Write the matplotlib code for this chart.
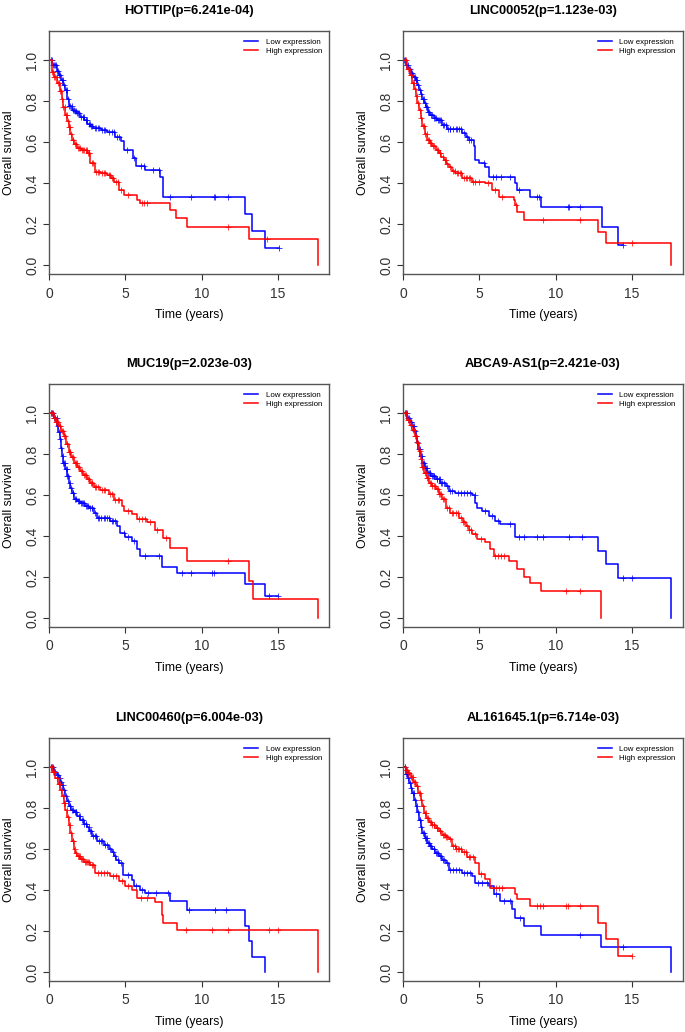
import numpy as np
import matplotlib
matplotlib.use("Agg")
import matplotlib.pyplot as plt

plt.rcParams['font.family'] = ['Liberation Sans', 'DejaVu Sans']

# --- titres ---
titles = ["HOTTIP(p=6.241e-04)", "LINC00052(p=1.123e-03)", "MUC19(p=2.023e-03)",
          "ABCA9-AS1(p=2.421e-03)", "LINC00460(p=6.004e-03)", "AL161645.1(p=6.714e-03)"]
legend_labels = ["Low expression", "High expression"]
x_ticks = [0, 5, 10, 15]
y_ticks = [0.0, 0.2, 0.4, 0.6, 0.8, 1.0]

# --- HOTTIP ---
hottip_low_t = [0.2, 0.5, 0.65, 0.8, 0.95, 1.07, 1.2, 1.29, 1.5, 1.65, 1.8, 2.05, 2.3, 2.5, 2.7, 2.9, 3.4, 3.8, 4.35, 4.7, 4.9, 5.5, 5.7, 6.3, 7.3, 7.5, 12.86, 13.3, 14.13]
hottip_low_s = [0.98, 0.95, 0.93, 0.905, 0.88, 0.857, 0.81, 0.775, 0.76, 0.752, 0.745, 0.726, 0.71, 0.69, 0.68, 0.67, 0.66, 0.65, 0.628, 0.604, 0.563, 0.522, 0.486, 0.465, 0.432, 0.334, 0.25, 0.167, 0.083]
hottip_low_end = 15.1
hottip_low_cens = [0.1, 0.18, 0.25, 0.3, 0.38, 0.45, 0.52, 0.6, 0.68, 0.75, 0.82, 0.9, 1.0, 1.1, 1.15, 1.25, 1.33, 1.4, 1.48, 1.55, 1.62, 1.7, 1.78, 1.85, 1.92, 1.98, 2.1, 2.2, 2.28, 2.4, 2.48, 2.6, 2.68, 2.75, 2.85, 3.0, 3.1, 3.2, 3.3, 3.5, 3.6, 3.7, 3.95, 4.1, 4.25, 4.45, 4.6, 5.1, 5.6, 6.0, 6.2, 6.8, 7.2, 7.9, 9.3, 10.8, 10.9, 11.7, 15.1]
hottip_high_t = [0.2, 0.35, 0.52, 0.7, 0.85, 0.95, 1.07, 1.18, 1.29, 1.4, 1.5, 1.65, 1.83, 2.1, 2.5, 2.7, 3.03, 3.4, 3.8, 4.05, 4.24, 4.56, 4.9, 5.76, 5.98, 7.9, 8.3, 9.04, 13.08, 17.66]
hottip_high_s = [0.945, 0.92, 0.89, 0.85, 0.81, 0.77, 0.734, 0.705, 0.677, 0.64, 0.61, 0.59, 0.571, 0.56, 0.546, 0.5, 0.457, 0.448, 0.44, 0.425, 0.408, 0.367, 0.343, 0.318, 0.302, 0.268, 0.232, 0.188, 0.126, 0.0]
hottip_high_end = 17.66
hottip_high_cens = [0.12, 0.2, 0.28, 0.35, 0.42, 0.5, 0.58, 0.65, 0.72, 0.8, 0.88, 0.95, 1.02, 1.1, 1.15, 1.22, 1.3, 1.36, 1.45, 1.55, 1.6, 1.7, 1.78, 1.88, 1.95, 2.05, 2.15, 2.25, 2.3, 2.4, 2.48, 2.55, 2.6, 2.65, 2.8, 2.9, 3.1, 3.2, 3.3, 3.45, 3.6, 3.7, 3.9, 4.0, 4.1, 4.2, 4.4, 4.5, 4.7, 5.2, 6.1, 6.2, 6.4, 11.7, 14.3]

# --- LINC00052 ---
linc52_low_t = [0.17, 0.35, 0.5, 0.68, 0.83, 0.95, 1.05, 1.15, 1.26, 1.38, 1.48, 1.65, 1.8, 2.0, 2.24, 2.57, 2.9, 3.88, 4.1, 4.3, 4.64, 4.75, 4.97, 5.4, 5.62, 7.36, 7.47, 8.34, 9.06, 13.03, 14.07]
linc52_low_s = [0.98, 0.96, 0.94, 0.92, 0.905, 0.88, 0.856, 0.835, 0.81, 0.79, 0.77, 0.75, 0.734, 0.72, 0.71, 0.685, 0.665, 0.644, 0.628, 0.612, 0.58, 0.514, 0.498, 0.48, 0.432, 0.40, 0.367, 0.334, 0.286, 0.188, 0.096]
linc52_low_end = 14.45
linc52_low_cens = [0.08, 0.15, 0.22, 0.3, 0.38, 0.45, 0.55, 0.6, 0.7, 0.78, 0.88, 0.92, 1.0, 1.1, 1.2, 1.3, 1.35, 1.42, 1.5, 1.58, 1.65, 1.72, 1.85, 1.9, 2.0, 2.1, 2.18, 2.3, 2.35, 2.45, 2.5, 2.62, 2.7, 2.8, 2.95, 3.05, 3.1, 3.3, 3.5, 3.55, 3.7, 3.8, 4.0, 4.2, 4.35, 4.45, 5.3, 5.9, 6.1, 6.4, 7.0, 7.6, 8.8, 8.9, 10.8, 10.9, 11.6, 14.45]
linc52_high_t = [0.28, 0.45, 0.6, 0.72, 0.83, 0.95, 1.05, 1.15, 1.26, 1.42, 1.6, 1.75, 1.92, 2.15, 2.35, 2.5, 2.68, 2.85, 3.0, 3.2, 3.44, 3.88, 4.53, 5.4, 5.84, 6.27, 7.25, 7.36, 7.47, 7.9, 12.8, 13.3, 17.56]
linc52_high_s = [0.96, 0.93, 0.89, 0.86, 0.824, 0.79, 0.76, 0.72, 0.68, 0.64, 0.61, 0.595, 0.58, 0.56, 0.546, 0.53, 0.514, 0.495, 0.48, 0.46, 0.449, 0.424, 0.408, 0.40, 0.367, 0.334, 0.318, 0.294, 0.261, 0.22, 0.163, 0.108, 0.0]
linc52_high_end = 17.56
linc52_high_cens = [0.1, 0.2, 0.3, 0.4, 0.5, 0.55, 0.65, 0.7, 0.78, 0.9, 1.0, 1.1, 1.18, 1.3, 1.38, 1.45, 1.55, 1.65, 1.7, 1.8, 1.85, 1.98, 2.05, 2.2, 2.3, 2.4, 2.45, 2.6, 2.75, 2.8, 2.9, 3.1, 3.3, 3.4, 3.55, 3.6, 3.75, 3.8, 4.0, 4.1, 4.2, 4.3, 4.4, 4.6, 4.7, 5.0, 5.6, 6.0, 6.5, 7.4, 9.2, 11.6, 15.0]

# --- MUC19 ---
muc19_low_t = [0.3, 0.52, 0.62, 0.7, 0.78, 0.85, 0.95, 1.07, 1.18, 1.29, 1.4, 1.5, 1.66, 1.85, 2.05, 2.35, 2.6, 2.93, 3.14, 4.0, 4.45, 4.67, 5.0, 5.44, 5.76, 5.98, 7.4, 8.38, 12.86, 14.13]
muc19_low_s = [0.98, 0.94, 0.91, 0.873, 0.83, 0.79, 0.76, 0.727, 0.695, 0.662, 0.635, 0.613, 0.58, 0.572, 0.564, 0.55, 0.54, 0.515, 0.49, 0.475, 0.45, 0.418, 0.394, 0.377, 0.337, 0.304, 0.247, 0.222, 0.167, 0.11]
muc19_low_end = 15.04
muc19_low_cens = [0.1, 0.2, 0.28, 0.35, 0.42, 0.5, 0.58, 0.65, 0.75, 0.8, 0.9, 0.95, 1.0, 1.05, 1.1, 1.15, 1.2, 1.25, 1.35, 1.45, 1.55, 1.6, 1.7, 1.8, 1.9, 1.95, 2.1, 2.15, 2.25, 2.3, 2.4, 2.5, 2.55, 2.7, 2.8, 2.85, 3.0, 3.2, 3.3, 3.4, 3.6, 3.7, 3.8, 3.9, 4.1, 4.2, 4.3, 4.9, 5.2, 5.6, 6.3, 7.2, 8.7, 9.3, 10.7, 10.8, 14.4, 15.04]
muc19_high_t = [0.3, 0.45, 0.63, 0.8, 0.96, 1.1, 1.29, 1.45, 1.62, 1.85, 2.05, 2.25, 2.5, 2.7, 2.93, 3.36, 3.9, 4.24, 4.78, 4.9, 5.44, 5.76, 6.4, 6.97, 7.5, 7.95, 9.04, 13.08, 13.34, 17.66]
muc19_high_s = [0.98, 0.96, 0.94, 0.915, 0.89, 0.85, 0.81, 0.785, 0.76, 0.74, 0.72, 0.7, 0.68, 0.66, 0.64, 0.624, 0.607, 0.575, 0.55, 0.525, 0.51, 0.485, 0.468, 0.43, 0.39, 0.34, 0.278, 0.18, 0.093, 0.0]
muc19_high_end = 17.66
muc19_high_cens = [0.12, 0.2, 0.3, 0.38, 0.45, 0.5, 0.58, 0.7, 0.75, 0.85, 0.92, 1.0, 1.05, 1.15, 1.2, 1.3, 1.38, 1.4, 1.5, 1.58, 1.7, 1.75, 1.82, 1.9, 1.95, 2.1, 2.15, 2.3, 2.35, 2.4, 2.55, 2.6, 2.75, 2.8, 2.85, 3.0, 3.1, 3.2, 3.5, 3.6, 3.7, 4.0, 4.1, 4.3, 4.5, 4.6, 5.2, 5.9, 6.1, 6.3, 6.6, 7.1, 7.7, 11.7]

# --- ABCA9-AS1 ---
abca9_low_t = [0.28, 0.45, 0.6, 0.72, 0.83, 0.92, 1.0, 1.12, 1.26, 1.42, 1.6, 1.85, 2.13, 2.45, 2.8, 3.0, 3.44, 4.53, 4.75, 4.86, 5.2, 5.62, 6.05, 6.38, 7.36, 12.77, 13.3, 14.07, 17.56]
abca9_low_s = [0.98, 0.96, 0.94, 0.915, 0.89, 0.86, 0.824, 0.79, 0.76, 0.735, 0.71, 0.695, 0.678, 0.66, 0.645, 0.62, 0.61, 0.60, 0.564, 0.54, 0.524, 0.5, 0.475, 0.46, 0.397, 0.33, 0.265, 0.198, 0.0]
abca9_low_end = 17.56
abca9_low_cens = [0.1, 0.18, 0.25, 0.32, 0.4, 0.5, 0.55, 0.65, 0.7, 0.78, 0.88, 0.95, 1.05, 1.1, 1.18, 1.22, 1.3, 1.35, 1.45, 1.5, 1.55, 1.65, 1.7, 1.75, 1.8, 1.9, 1.95, 2.0, 2.05, 2.2, 2.25, 2.35, 2.4, 2.5, 2.55, 2.7, 2.9, 3.1, 3.2, 3.6, 3.8, 4.0, 4.2, 4.4, 4.7, 5.4, 5.8, 6.2, 7.0, 7.6, 7.9, 8.8, 9.2, 10.9, 11.7, 14.4, 15.0]
abca9_high_t = [0.28, 0.45, 0.6, 0.78, 0.94, 1.05, 1.15, 1.25, 1.37, 1.55, 1.7, 1.9, 2.13, 2.35, 2.57, 2.79, 3.1, 3.66, 3.9, 4.1, 4.3, 4.53, 4.86, 5.4, 5.73, 5.95, 6.93, 7.47, 7.9, 8.34, 9.06, 12.98]
abca9_high_s = [0.97, 0.945, 0.92, 0.89, 0.855, 0.815, 0.775, 0.74, 0.71, 0.685, 0.66, 0.645, 0.63, 0.605, 0.58, 0.54, 0.515, 0.49, 0.47, 0.45, 0.43, 0.41, 0.385, 0.37, 0.337, 0.304, 0.278, 0.24, 0.2, 0.17, 0.13, 0.0]
abca9_high_end = 12.98
abca9_high_cens = [0.12, 0.2, 0.3, 0.4, 0.5, 0.55, 0.65, 0.7, 0.8, 0.88, 1.0, 1.1, 1.2, 1.25, 1.32, 1.45, 1.5, 1.6, 1.65, 1.8, 1.85, 1.9, 2.0, 2.1, 2.2, 2.3, 2.35, 2.45, 2.5, 2.65, 2.7, 2.9, 3.0, 3.2, 3.3, 3.5, 3.6, 3.8, 3.9, 4.0, 4.2, 4.3, 4.45, 4.7, 5.1, 6.0, 6.2, 6.4, 6.6, 10.7, 11.6]

# --- LINC00460 ---
linc460_low_t = [0.3, 0.5, 0.63, 0.75, 0.85, 0.95, 1.07, 1.18, 1.29, 1.45, 1.62, 1.85, 2.05, 2.3, 2.5, 2.65, 2.82, 3.14, 3.58, 3.9, 4.1, 4.24, 4.4, 4.56, 4.85, 5.44, 5.55, 5.98, 6.3, 7.95, 9.04, 12.86, 13.08, 13.3, 14.13]
linc460_low_s = [0.98, 0.965, 0.948, 0.93, 0.915, 0.89, 0.86, 0.835, 0.81, 0.79, 0.78, 0.765, 0.745, 0.725, 0.71, 0.69, 0.665, 0.64, 0.623, 0.6, 0.585, 0.566, 0.55, 0.533, 0.475, 0.452, 0.42, 0.403, 0.387, 0.345, 0.302, 0.226, 0.15, 0.075, 0.0]
linc460_low_end = 14.13
linc460_low_cens = [0.1, 0.2, 0.28, 0.35, 0.42, 0.55, 0.6, 0.7, 0.8, 0.9, 1.0, 1.12, 1.22, 1.35, 1.4, 1.5, 1.55, 1.7, 1.75, 1.8, 1.95, 2.0, 2.15, 2.2, 2.3, 2.4, 2.45, 2.6, 2.7, 2.78, 2.9, 3.0, 3.1, 3.3, 3.4, 3.5, 3.7, 3.8, 4.0, 4.2, 4.35, 4.5, 4.7, 5.2, 5.7, 6.1, 6.5, 7.0, 7.8, 9.2, 10.9, 11.6]
linc460_high_t = [0.2, 0.41, 0.6, 0.74, 0.85, 0.96, 1.08, 1.18, 1.3, 1.4, 1.5, 1.62, 1.72, 1.83, 2.05, 2.27, 2.7, 3.03, 4.0, 4.56, 5.0, 5.44, 5.76, 6.97, 7.4, 7.5, 8.38, 17.66]
linc460_high_s = [0.98, 0.948, 0.92, 0.89, 0.86, 0.826, 0.79, 0.76, 0.72, 0.68, 0.64, 0.6, 0.58, 0.566, 0.552, 0.54, 0.525, 0.485, 0.468, 0.444, 0.42, 0.403, 0.363, 0.34, 0.277, 0.24, 0.205, 0.0]
linc460_high_end = 17.66
linc460_high_cens = [0.1, 0.18, 0.25, 0.32, 0.38, 0.5, 0.55, 0.65, 0.7, 0.8, 0.9, 1.0, 1.05, 1.15, 1.25, 1.35, 1.45, 1.55, 1.6, 1.7, 1.8, 1.9, 1.95, 2.0, 2.1, 2.15, 2.25, 2.35, 2.4, 2.5, 2.55, 2.6, 2.8, 2.9, 3.2, 3.4, 3.6, 3.8, 4.2, 4.4, 4.8, 5.2, 6.0, 6.4, 9.0, 10.7, 11.7, 14.4, 15.0]

# --- AL161645.1 ---
al1616_low_t = [0.17, 0.3, 0.4, 0.5, 0.6, 0.72, 0.83, 0.95, 1.05, 1.15, 1.26, 1.42, 1.6, 1.75, 1.92, 2.1, 2.35, 2.55, 2.8, 3.0, 3.88, 4.53, 4.75, 5.62, 5.95, 6.38, 7.14, 7.36, 7.9, 9.06, 12.98, 17.56]
al1616_low_s = [0.97, 0.95, 0.925, 0.9, 0.875, 0.84, 0.81, 0.78, 0.745, 0.71, 0.68, 0.655, 0.63, 0.615, 0.6, 0.583, 0.566, 0.55, 0.533, 0.5, 0.485, 0.468, 0.435, 0.42, 0.38, 0.346, 0.307, 0.266, 0.225, 0.18, 0.12, 0.0]
al1616_low_end = 17.56
al1616_low_cens = [0.1, 0.22, 0.25, 0.35, 0.45, 0.55, 0.65, 0.7, 0.78, 0.9, 1.0, 1.1, 1.12, 1.2, 1.3, 1.35, 1.45, 1.5, 1.55, 1.65, 1.7, 1.8, 1.85, 2.0, 2.05, 2.15, 2.2, 2.3, 2.45, 2.5, 2.6, 2.7, 2.9, 3.1, 3.3, 3.5, 3.7, 4.0, 4.2, 4.4, 4.9, 5.2, 5.5, 6.1, 6.6, 7.0, 7.7, 11.6, 14.4]
al1616_high_t = [0.17, 0.35, 0.5, 0.68, 0.83, 1.0, 1.15, 1.26, 1.37, 1.52, 1.7, 1.9, 2.13, 2.35, 2.57, 2.8, 3.0, 3.2, 3.5, 3.88, 4.2, 4.75, 4.97, 5.4, 5.73, 7.36, 7.47, 8.34, 12.77, 13.3, 14.07]
al1616_high_s = [0.99, 0.975, 0.955, 0.93, 0.907, 0.875, 0.842, 0.81, 0.776, 0.755, 0.735, 0.72, 0.705, 0.69, 0.672, 0.66, 0.65, 0.617, 0.6, 0.585, 0.56, 0.535, 0.478, 0.455, 0.413, 0.38, 0.355, 0.322, 0.24, 0.16, 0.08]
al1616_high_end = 15.0
al1616_high_cens = [0.12, 0.2, 0.28, 0.35, 0.42, 0.5, 0.6, 0.65, 0.75, 0.8, 0.9, 0.95, 1.05, 1.1, 1.2, 1.3, 1.45, 1.5, 1.6, 1.65, 1.8, 1.85, 1.9, 2.0, 2.05, 2.2, 2.25, 2.4, 2.45, 2.6, 2.7, 2.75, 2.85, 2.9, 3.1, 3.3, 3.4, 3.5, 3.6, 3.7, 3.8, 4.0, 4.1, 4.3, 4.4, 4.6, 5.1, 5.9, 6.1, 6.3, 6.5, 8.8, 9.0, 9.2, 10.7, 10.8, 11.6, 15.0]

panels = [
    (hottip_low_t, hottip_low_s, hottip_low_end, hottip_low_cens, hottip_high_t, hottip_high_s, hottip_high_end, hottip_high_cens),
    (linc52_low_t, linc52_low_s, linc52_low_end, linc52_low_cens, linc52_high_t, linc52_high_s, linc52_high_end, linc52_high_cens),
    (muc19_low_t, muc19_low_s, muc19_low_end, muc19_low_cens, muc19_high_t, muc19_high_s, muc19_high_end, muc19_high_cens),
    (abca9_low_t, abca9_low_s, abca9_low_end, abca9_low_cens, abca9_high_t, abca9_high_s, abca9_high_end, abca9_high_cens),
    (linc460_low_t, linc460_low_s, linc460_low_end, linc460_low_cens, linc460_high_t, linc460_high_s, linc460_high_end, linc460_high_cens),
    (al1616_low_t, al1616_low_s, al1616_low_end, al1616_low_cens, al1616_high_t, al1616_high_s, al1616_high_end, al1616_high_cens),
]


def km_plot(ax, t, s, end, cens, color, label):
    t = np.asarray(t)
    s = np.asarray(s)
    xs = np.concatenate([[0], t, [end]])
    ys = np.concatenate([[1.0], s, [s[-1]]])
    ax.step(xs, ys, where='post', color=color, lw=1.1, label=label)
    cens = np.asarray(cens)
    idx = np.searchsorted(t, cens, side='right') - 1
    cy = np.where(idx >= 0, s[np.clip(idx, 0, None)], 1.0)
    ax.plot(cens, cy, ls='none', marker='+', ms=5, mew=0.7, color=color, alpha=0.75)


W, H = 685, 1032
fig = plt.figure(figsize=(W / 100, H / 100), dpi=100)

lefts = [49, 403]
tops = [31, 384, 738]
aw, ah = 280, 243

for i, p in enumerate(panels):
    r, c = divmod(i, 2)
    ax = fig.add_axes([lefts[c] / W, 1 - (tops[r] + ah) / H, aw / W, ah / H])
    km_plot(ax, p[0], p[1], p[2], p[3], '#0000ff', legend_labels[0])
    km_plot(ax, p[4], p[5], p[6], p[7], '#ff0000', legend_labels[1])
    ax.set_xlim(0, 18.35)
    ax.set_ylim(-0.044, 1.144)
    ax.set_xticks(x_ticks)
    ax.set_yticks(y_ticks)
    ax.set_yticklabels([f"{v:.1f}" for v in y_ticks], rotation=90, va='center')
    ax.tick_params(direction='out', length=4, width=0.8, labelsize=10, colors='#333333')
    ax.tick_params(axis='y', pad=3)
    ax.tick_params(axis='x', pad=5)
    for sp in ax.spines.values():
        sp.set_color('#555555')
        sp.set_linewidth(1.0)
    ax.set_title(titles[i], fontsize=9.3, fontweight='bold', pad=12)
    ax.set_xlabel("Time (years)", fontsize=8.8)
    ax.set_ylabel("Overall survival", fontsize=8.8)
    ax.xaxis.set_label_coords(0.5, -0.145)
    ax.yaxis.set_label_coords(-0.12, 0.5)
    leg = ax.legend(loc='upper right', frameon=False, fontsize=5.7, handlelength=1.7,
                    handletextpad=1.0, labelspacing=0.25, borderaxespad=0.5)

fig.savefig("out.png", dpi=100)
